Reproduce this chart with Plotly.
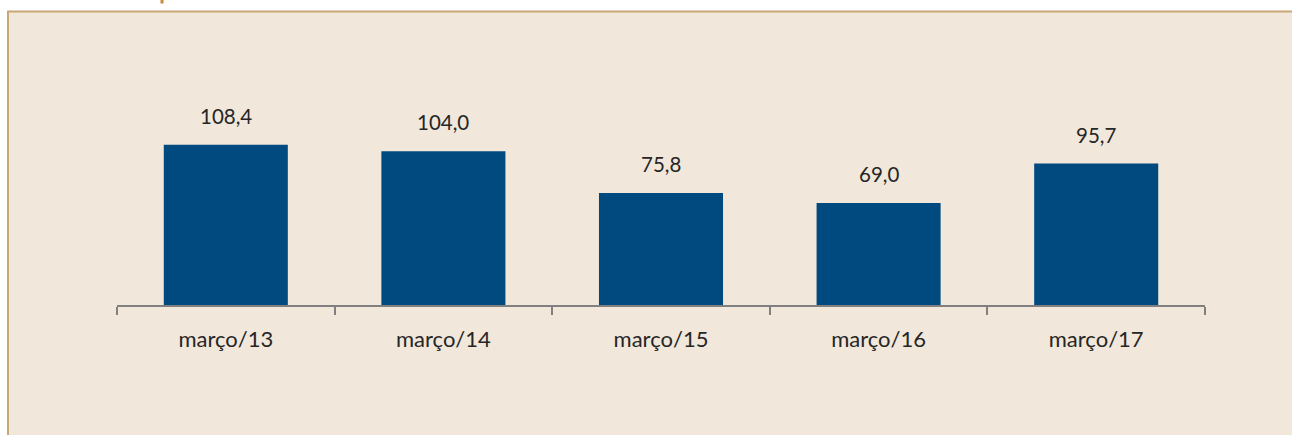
import plotly.graph_objects as go

categories = ["março/13", "março/14", "março/15", "março/16", "março/17"]
values = [108.4, 104.0, 75.8, 69.0, 95.7]
value_labels = ["108,4", "104,0", "75,8", "69,0", "95,7"]

W, H = 1292, 435
ML, MR, MT, MB = 117, 87, 98, 130
PW = W - ML - MR
PH = H - MT - MB

def px_x(p):
    return (p - ML) / PW

def px_y(p):
    return (H - MB - p) / PH

FONT = "Lato"
TXT = "#262626"

fig = go.Figure()
fig.add_trace(go.Bar(
    x=categories, y=values, width=0.57,
    marker=dict(color="#004A80", line=dict(width=0)),
    hoverinfo="skip",
))

for c, v, t in zip(categories, values, value_labels):
    fig.add_annotation(x=c, y=v, text=t, showarrow=False, yanchor="bottom",
                       yshift=15, font=dict(family=FONT, size=20.5, color=TXT))

shapes = [
    dict(type="rect", xref="paper", yref="paper",
         x0=px_x(8), x1=px_x(W + 10), y0=px_y(H + 10), y1=px_y(11.5),
         fillcolor="#F1E7DA", line=dict(color="#C9A877", width=2), layer="below"),
    dict(type="rect", xref="paper", yref="paper",
         x0=px_x(160.5), x1=px_x(163.5), y0=px_y(3.5), y1=px_y(-1),
         fillcolor="#C8893A", line=dict(width=0), layer="below"),
]

fig.update_layout(
    width=W, height=H,
    margin=dict(l=ML, r=MR, t=MT, b=MB),
    paper_bgcolor="white", plot_bgcolor="rgba(0,0,0,0)",
    shapes=shapes, showlegend=False, bargap=0.43,
    font=dict(family=FONT, size=20, color=TXT),
)
fig.update_xaxes(showline=True, linecolor="#808080", linewidth=2,
                 ticks="outside", ticklen=8, tickcolor="#808080", tickwidth=2,
                 tickson="boundaries", showgrid=False, ticklabelstandoff=14,
                 tickfont=dict(family=FONT, size=22, color=TXT))
fig.update_yaxes(range=[0, 140], visible=False, showgrid=False, zeroline=False)

fig.write_html("out.html", config={"displayModeBar": False},
               post_script="document.body.style.margin='0';document.body.style.overflow='hidden';")
